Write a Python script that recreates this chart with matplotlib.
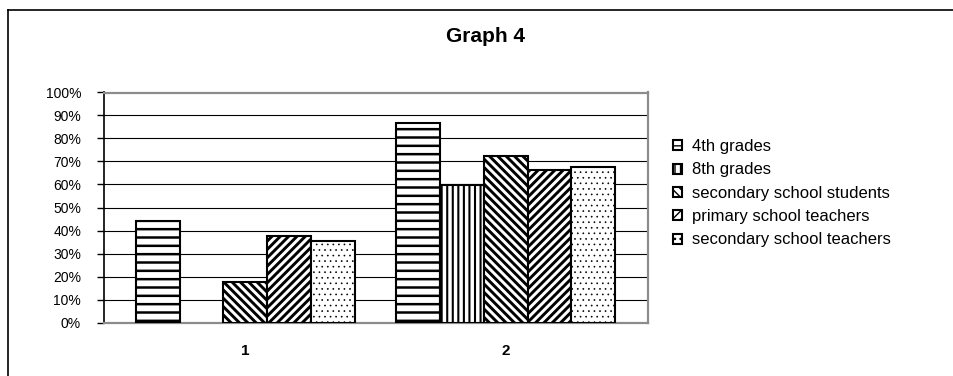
import numpy as np
import matplotlib
matplotlib.use("Agg")
import matplotlib.pyplot as plt
from matplotlib.lines import Line2D

plt.rcParams['font.family'] = ['Liberation Sans', 'DejaVu Sans']

# ---- data -------------------------------------------------------------
categories = ["1", "2"]
series_names = ["4th grades", "8th grades", "secondary school students",
                "primary school teachers", "secondary school teachers"]
values_1 = [44.3, np.nan, 17.5, 37.4, 35.4]   # percent, category 1
values_2 = [86.8, 59.6, 72.5, 66.4, 67.8]     # percent, category 2
y_ticks = [0, 10, 20, 30, 40, 50, 60, 70, 80, 90, 100]
y_tick_labels = [f"{t}%" for t in y_ticks]
title = "Graph 4"

# ---- styling ----------------------------------------------------------
hatches = ['--', '|||', '\\\\\\\\', '////', '...']
hatch_widths = [1.8, 1.5, 2.1, 2.1, 0.45]

W, H = 954, 376
fig = plt.figure(figsize=(W / 100, H / 100), dpi=100)
ax = fig.add_axes([104 / W, 1 - 322.5 / H, 544 / W, 230 / H])

x = np.arange(len(categories))
bar_w = 0.168
table = np.array([values_1, values_2]).T  # rows: series, cols: categories

handles = []
for i, name in enumerate(series_names):
    with plt.rc_context({'hatch.linewidth': hatch_widths[i], 'hatch.color': 'black'}):
        bars = ax.bar(x + (i - 2) * bar_w, table[i], width=bar_w,
                      facecolor='white', edgecolor='black', linewidth=1.5,
                      hatch=hatches[i], zorder=3, label=name)
    handles.append(bars)

ax.set_xlim(-0.5418, 1.5458)
ax.set_ylim(0, 100)
ax.set_yticks(y_ticks)
ax.set_yticklabels(y_tick_labels, fontsize=10)
ax.set_xticks(x)
ax.set_xticklabels(categories, fontsize=11, fontweight='bold')
ax.tick_params(axis='y', direction='out', length=5, width=1, pad=11.5, colors='black')
ax.tick_params(axis='x', length=0, pad=15.5)

ax.yaxis.grid(True, color='black', linewidth=0.8, zorder=1)
ax.set_axisbelow(True)
for side in ['top', 'right', 'bottom']:
    ax.spines[side].set_color('#8c8c8c')
    ax.spines[side].set_linewidth(1.6)
ax.spines['left'].set_color('black')
ax.spines['left'].set_linewidth(1.2)

fig.text(486 / W, 1 - 36.7 / H, title, ha='center', va='center',
         fontsize=15, fontweight='bold')

fig.legend(handles, series_names, loc='center left',
           bbox_to_anchor=(673 / W, 1 - 193.3 / H), frameon=False,
           fontsize=12, borderpad=0, borderaxespad=0,
           handlelength=0.55, handleheight=0.55, handletextpad=0.6,
           labelspacing=0.5)

# chart-area frame (left and top edges)
fig.add_artist(Line2D([8 / W, 8 / W], [0, 1 - 10 / H], transform=fig.transFigure,
                      color='black', linewidth=1.2))
fig.add_artist(Line2D([8 / W, 1], [1 - 10 / H, 1 - 10 / H], transform=fig.transFigure,
                      color='black', linewidth=1.2))

fig.savefig("out.png", dpi=100)
